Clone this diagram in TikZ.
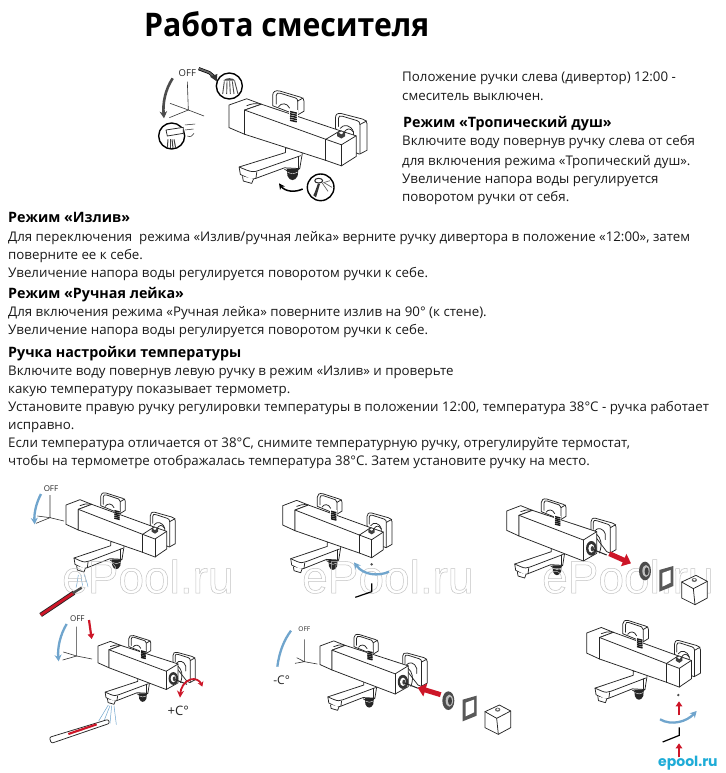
\documentclass[tikz,border=0pt]{standalone}
\usepackage{fontspec}
\setmainfont{Open Sans}
\newfontfamily\titlefont[FakeStretch=0.93]{Open Sans}
\newfontfamily\logofont{Poppins}
\newfontfamily\markfont{Liberation Sans}
\usetikzlibrary{arrows.meta}
\definecolor{arcblue}{RGB}{112,165,205}
\definecolor{tapred}{RGB}{205,22,40}
\definecolor{logocyan}{RGB}{30,172,215}
\tikzset{
  txt/.style={anchor=base west,inner sep=0pt,font=\fontsize{13.3}{15}\selectfont,text=black!90},
  head/.style={anchor=base west,inner sep=0pt,font=\fontsize{14.3}{15}\selectfont\bfseries,text=black},
  lab/.style={inner sep=0pt,text=black!85},
  tap/.style={draw=black!85,line width=0.75pt,line join=round,fill=white},
  tapline/.style={draw=black!85,line width=0.75pt,line join=round,line cap=round},
  axis/.style={draw=black!80,line width=0.6pt},
  bluearc/.style={draw=arcblue,line width=2.3pt,-{Stealth[length=6.5pt,width=7pt]}},
  bluebare/.style={draw=arcblue,line width=2.3pt},
  redfat/.style={draw=tapred,line width=5pt,-{Triangle[length=8pt,width=13pt]}},
  redthin/.style={draw=tapred,line width=2.2pt,-{Triangle[length=5pt,width=6.5pt]}},
  water/.style={draw=arcblue,line width=0.5pt},
  zoomI/.style={shift={(130,50)},scale=1/3},
  zoomII/.style={shift={(0,475)},scale=1/3},
  zoomIII/.style={shift={(250,475)},scale=1/3},
  zoomIV/.style={shift={(0,610)},scale=1/3},
  zoomV/.style={shift={(250,610)},scale=1/3},
}
\newcommand\HandlesAndSpout{%
  \draw[tap] (302,92) -- (302,64) .. controls (302,56) and (308,52) .. (318,54) -- (368,70) .. controls (374,72) and (376,75) .. (376,80) -- (376,106) -- (360,116) -- cycle;
  \draw[tapline] (310,88) -- (310,66) .. controls (310,60) and (314,58) .. (320,60) -- (356,72) .. controls (360,74) and (361,76) .. (361,80) -- (361,112);
  \draw[tapline] (361,80) -- (374,72);
  \draw[tapline] (316,94) .. controls (322,84) and (336,84) .. (342,98);
  \draw[tap] (451,150) -- (451,122) .. controls (451,114) and (456,110) .. (465,112) -- (515,126) .. controls (522,128) and (526,132) .. (526,138) -- (526,206) -- (508,216) -- (498,212) -- cycle;
  \draw[tapline] (458,145) -- (458,124) .. controls (458,118) and (462,117) .. (468,119) -- (502,130) .. controls (507,132) and (509,135) .. (509,140) -- (509,214);
  \draw[tapline] (509,140) -- (525,131);
  \draw[tapline] (462,150) .. controls (470,138) and (488,140) .. (494,160) -- (494,176);
  \draw[tap] (332,200) -- (332,212) -- (222,249) -- (225,268) -- (250,281) -- (262,278) -- (330,251) -- (366,253) -- (372,215) -- (372,200) -- cycle;
  \draw[tapline] (222,249) -- (240,257) .. controls (252,262) and (258,262) .. (268,258) -- (368,220);
  \draw[tapline] (264,262) -- (262,278);
  \draw[tapline] (362,222) -- (362,253);
  \draw[tap] (230,273) -- (232,285) -- (252,291) -- (256,280);
  \fill[black!85] (335,253) -- (337,272) .. controls (342,286) and (355,286) .. (361,272) -- (363,253) -- cycle;
  \draw[white,line width=0.4pt] (337,262) .. controls (345,267) and (353,267) .. (361,262);
  \draw[tapline] (330,255) .. controls (342,264) and (355,264) .. (366,253);
}
\newcommand\BodyLeft{%
  \draw[tap] (198,90) -- (240,74) -- (275,88) -- (235,103) -- (235,165) -- (198,148) -- cycle;
  \draw[tapline] (240,92) .. controls (250,87) and (260,85) .. (275,88);
}
\newcommand\BodyClosed{%
  \draw[tap] (235,103) -- (275,88) -- (462,156) -- (500,169) -- (500,222) -- (465,246) -- (428,232) -- (235,165) -- cycle;
  \draw[tapline] (235,103) -- (428,178) -- (465,192) -- (500,169);
  \draw[tapline] (428,178) -- (462,156);
  \draw[tapline] (428,178) -- (428,232);
  \draw[tapline] (465,192) -- (465,246);
  \fill[black!75] (455,160) -- (464,155) -- (474,160) -- (474,170) -- (465,176) -- (455,170) -- cycle;
  \fill[white] (459,161) -- (465,158) -- (470,161) -- (465,165) -- cycle;
  \draw[tapline] (470,162) .. controls (478,148) and (486,148) .. (494,160);
}
\newcommand\BodyOpen{%
  \draw[tap] (235,103) -- (275,88) -- (468,152) -- (468,217) -- (428,240) -- (235,165) -- cycle;
  \draw[tapline] (235,103) -- (428,177) -- (468,152);
  \draw[tapline] (428,177) -- (428,240);
  \fill[black!80] (452,202) ellipse [x radius=16,y radius=22];
  \fill[white] (452,202) ellipse [x radius=9,y radius=13];
  \fill[black!75] (455,203) ellipse [x radius=5,y radius=8];
  \draw[black!85,line width=1pt] (458,206) -- (498,222);
  \draw[tapline] (468,160) .. controls (480,170) and (486,190) .. (476,216);
}
% #1 x, #2 y, #3 x scale, #4 y scale, #5 end part
\newcommand\Faucet[5]{%
  \begin{scope}[shift={(#1,#2)},xscale=#3/3,yscale=#4/3,shift={(-198,-90)}]
    \HandlesAndSpout
    \BodyLeft
    #5
    \fill[white] (341,104) rectangle (361,136);
    \foreach \k in {0,1,2,3,4} {
      \draw[line width=1.5pt,black!90] (343,107+5.5*\k) -- (359,111+5.5*\k);
    }
  \end{scope}%
}
\newcommand\Axes[5]{%
  \draw[axis] #1 -- #2 -- #5;
  \draw[axis] #3 -- #2 -- #4;
}
\newcommand\Kit[1]{%
  \begin{scope}[shift={#1}]
    \fill[black!70] (0,0) ellipse [x radius=18,y radius=28];
    \fill[black!25] (3,0) ellipse [x radius=11,y radius=18];
    \fill[black!75] (5,1) ellipse [x radius=6,y radius=12];
    \fill[black!65] (43,-3) -- (85,-15) -- (85,45) -- (43,62) -- cycle;
    \fill[white] (52,6) -- (77,-3) -- (77,35) -- (52,47) -- cycle;
    \draw[tap] (110,33) -- (153,13) -- (187,31) -- (187,81) -- (150,101) -- (110,81) -- cycle;
    \draw[tapline] (110,33) -- (145,53) -- (187,31);
    \draw[tapline] (145,53) -- (150,101);
    \fill[black!60] (148,27) ellipse [x radius=8,y radius=6];
    \fill[white] (148,26) ellipse [x radius=4,y radius=3];
  \end{scope}%
}
\newcommand\Mark[4]{%
  \node[inner sep=0pt,anchor=base west,font=\markfont\fontsize{46}{46}\selectfont] (#1) at (#2,#3) {\special{pdf:code 1 Tr 0.5 w 0.76 G}#4\special{pdf:code 0 Tr 0 G}};%
}
\begin{document}
\begin{tikzpicture}[x=1pt,y=-1pt]
\useasboundingbox (0,0) rectangle (725,773);
\fill[white] (0,0) rectangle (725,773);

\node[anchor=base west,inner sep=0pt,font=\titlefont\fontsize{32.5}{36}\selectfont\bfseries] (title) at (144,37) {Работа смесителя};

\node[txt] (r1) at (402,82) {Положение ручки слева (дивертор) 12:00 -};
\node[txt] (r2) at (402,101) {смеситель выключен.};
\node[head] (r3) at (403,128) {Режим «Тропический душ»};
\node[txt] (r4) at (402,146) {Включите воду повернув ручку слева от себя};
\node[txt] (r5) at (402,165) {для включения режима «Тропический душ».};
\node[txt] (r6) at (402,183) {Увеличение напора воды регулируется};
\node[txt] (r7) at (402,201) {поворотом ручки от себя.};

\node[head] (a1) at (8,222) {Режим «Излив»};
\node[txt] (a2) at (8,241) {Для переключения\ \ режима «Излив/ручная лейка» верните ручку дивертора в положение «12:00», затем};
\node[txt] (a3) at (8,259) {поверните ее к себе.};
\node[txt] (a4) at (8,277) {Увеличение напора воды регулируется поворотом ручки к себе.};
\node[head] (b1) at (8,298) {Режим «Ручная лейка»};
\node[txt] (b2) at (8,316) {Для включения режима «Ручная лейка» поверните излив на 90° (к стене).};
\node[txt] (b3) at (8,334) {Увеличение напора воды регулируется поворотом ручки к себе.};
\node[head] (c1) at (8,357) {Ручка настройки температуры};
\node[txt] (c2) at (8,375) {Включите воду повернув левую ручку в режим «Излив» и проверьте};
\node[txt] (c3) at (8,393) {какую температуру показывает термометр.};
\node[txt] (c4) at (8,411) {Установите правую ручку регулировки температуры в положении 12:00, температура 38°C - ручка работает};
\node[txt] (c5) at (8,429) {исправно.};
\node[txt] (c6) at (8,447) {Если температура отличается от 38°C, снимите температурную ручку, отрегулируйте термостат,};
\node[txt] (c7) at (8,465) {чтобы на термометре отображалась температура 38°C. Затем установите ручку на место.};

% top figure
\Faucet{229}{105}{1.263}{1.17}{\BodyClosed}
\begin{scope}[zoomI]
  \node[lab,font=\fontsize{9.5}{10}\selectfont] (off0) at (172,68) {OFF};
  \Axes{(172,95)}{(175,180)}{(120,160)}{(118,203)}{(222,198)}
  \draw[black!70,line width=2.6pt,-{Stealth[length=7pt,width=7.5pt]}] (128,85) .. controls (105,120) and (98,160) .. (102,205);
  \draw[black,line width=3.2pt] (206,56) -- (238,68) -- (250,78);
  \draw[black!60,line width=1.8pt] (207,56) -- (238,68) -- (250,78);
  \fill[black!80] (240,80) -- (262,72) -- (260,94) -- cycle;
  \draw[black,line width=1.4pt,fill=white] (298,108) circle [radius=39];
  \fill[black!70] (280,92) .. controls (286,82) and (310,82) .. (316,92) -- cycle;
  \foreach \a/\b in {283/278,291/290,299/301,307/312,314/324} {
    \draw[black!70,line width=0.9pt] (\a,94) -- (\b,132);
  }
  \draw[black,line width=1.4pt,fill=white] (125,258) circle [radius=39];
  \draw[tap] (108,240) -- (160,232) -- (160,250) -- (112,258) -- cycle;
  \draw[tapline,line width=0.5pt] (165,225) -- (195,222);
  \draw[tapline,line width=0.5pt] (165,240) -- (190,237);
  \draw[tapline,line width=0.5pt] (172,258) .. controls (182,262) and (188,258) .. (192,250);
  \foreach \a/\b in {114/112,120/120,126/129,132/137} {
    \draw[black!75,line width=1pt] (\a,268) -- (\b,294);
  }
  \draw[black,line width=1.4pt,fill=white] (572,412) circle [radius=40];
  \fill[black!80] (550,436) .. controls (556,425) and (560,410) .. (564,400) -- (570,402) .. controls (566,415) and (562,430) .. (558,442) -- cycle;
  \draw[tapline,line width=1pt,fill=white] (566,392) ellipse [x radius=12,y radius=7];
  \foreach \a/\b/\c in {580/600/392,582/606/412,576/594/424} {
    \draw[black!60,line width=0.7pt] (\a,398) -- (\b,\c);
  }
  \draw[black,line width=1.5pt,-{Stealth[length=6pt,width=6pt]}] (518,417) .. controls (495,428) and (465,425) .. (447,400);
\end{scope}

% figure 1
\Faucet{66}{505}{1}{1}{\BodyClosed}
\begin{scope}[zoomII]
  \node[lab,font=\fontsize{8}{9}\selectfont] (off1) at (153,41) {OFF};
  \Axes{(150,60)}{(150,128)}{(112,123)}{(108,145)}{(192,138)}
  \draw[bluearc] (123,57) .. controls (108,85) and (102,115) .. (104,148);
  \draw[water] (235,300) .. controls (232,315) and (232,325) .. (228,338);
  \draw[water] (243,300) .. controls (245,315) and (245,322) .. (248,332);
  \draw[water] (252,298) .. controls (258,312) and (262,325) .. (264,336);
\end{scope}
\Mark{mark1}{62}{593}{ePool.ru}
\begin{scope}[zoomII]
  \draw[black!85,line width=4.5pt] (122,420) -- (222,353);
  \draw[tapred,line width=2.8pt] (122,420) -- (222,353);
  \draw[black!70,line width=2.4pt] (218,355) -- (245,338);
\end{scope}

% figure 2
\Faucet{282.7}{505.7}{1}{1}{\BodyClosed}
\Mark{mark2}{302}{593}{ePool.ru}
\begin{scope}[zoomIII]
  \fill[black!70] (365,268) circle [radius=4];
  \draw[bluearc] (417,290) .. controls (385,305) and (340,300) .. (312,262);
  \draw[black,line width=1.2pt] (316,367) -- (365,350) -- (365,325);
\end{scope}

% figure 3
\Faucet{506.7}{511}{1}{1}{\BodyOpen}
\Mark{mark3}{542}{593}{ePool.ru}
\begin{scope}[zoomIII]
  \draw[redfat] (1078,236) -- (1143,265);
  \Kit{(1185,288)}
\end{scope}

% figure 4
\Faucet{98}{646}{0.89}{0.87}{\BodyOpen}
\begin{scope}[zoomIV]
  \node[lab,font=\fontsize{8}{9}\selectfont] (off2) at (232,27) {OFF};
  \Axes{(230,50)}{(230,138)}{(190,126)}{(188,150)}{(276,147)}
  \draw[bluearc] (200,42) .. controls (180,75) and (172,115) .. (176,154);
  \draw[redthin] (267,30) -- (275,87);
  \draw[tapred,line width=1.8pt,-{Stealth[length=7pt,width=7pt]}] (572,208) .. controls (552,214) and (542,235) .. (540,263);
  \draw[tapred,line width=1.8pt,-{Stealth[length=5pt,width=6pt]}] (572,208) .. controls (586,204) and (600,212) .. (607,230);
  \node[lab,font=\fontsize{13}{15}\selectfont] (plusc) at (535,304) {+C°};
  \draw[water] (325,285) -- (296,333);
  \draw[water] (330,287) -- (310,338);
  \draw[water] (335,287) -- (330,340);
  \draw[water] (342,287) -- (349,344);
  \draw[tap,rounded corners=2pt] (148,382) -- (325,328) -- (329,340) -- (154,400) -- cycle;
  \draw[tapred,line width=2.2pt] (205,372) -- (290,343);
\end{scope}

% figure 5
\Faucet{320}{646}{0.98}{0.96}{\BodyOpen}
\begin{scope}[zoomV]
  \node[lab,font=\fontsize{6.5}{8}\selectfont] (off3) at (163,58) {OFF};
  \Axes{(163,88)}{(163,155)}{(140,143)}{(135,160)}{(202,162)}
  \draw[bluebare] (123,62) .. controls (102,90) and (88,125) .. (82,170);
  \node[lab,font=\fontsize{12}{15}\selectfont] (minusc) at (95,212) {-C°};
  \draw[redfat] (572,254) -- (503,233);
  \Kit{(595,272)}
\end{scope}

% figure 6
\Faucet{586.7}{633}{1.04}{1.04}{\BodyClosed}
\begin{scope}[zoomV]
  \fill[black!70] (1285,255) circle [radius=4];
  \draw[redthin] (1287,316) -- (1287,274);
  \draw[bluearc] (1230,328) .. controls (1265,348) and (1310,335) .. (1340,303);
  \draw[black,line width=1.2pt] (1238,396) -- (1288,376) -- (1288,352);
  \draw[redthin] (1287,442) -- (1287,400);
\end{scope}
\node[anchor=base west,inner sep=0pt,text=logocyan,font=\logofont\fontsize{14}{15}\selectfont\bfseries] (logo) at (658,766) {epool.ru};
\end{tikzpicture}
\end{document}
